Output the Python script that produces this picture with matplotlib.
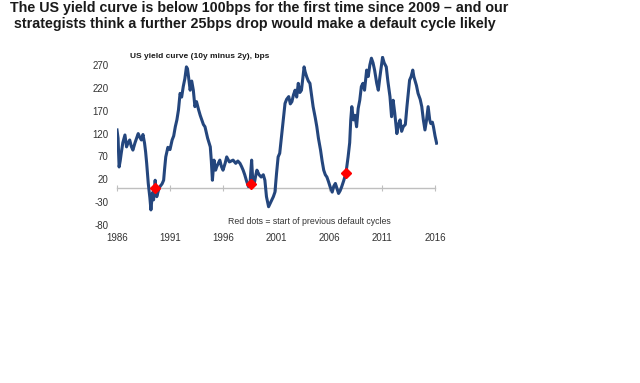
import numpy as np
import matplotlib
matplotlib.use('Agg')
import matplotlib.pyplot as plt

# data (year, bps)
years = [1986.0, 1986.1, 1986.2, 1986.3, 1986.4, 1986.55, 1986.75, 1986.9, 1987.05, 1987.2,
         1987.35, 1987.5, 1987.7, 1987.85, 1988.0, 1988.15, 1988.3, 1988.45, 1988.6, 1988.7,
         1988.8, 1988.95, 1989.1, 1989.2, 1989.35, 1989.45, 1989.6, 1989.75, 1989.9, 1990.05,
         1990.25, 1990.4, 1990.5, 1990.6, 1990.8, 1991.0, 1991.2, 1991.35, 1991.5, 1991.65,
         1991.8, 1991.95, 1992.1, 1992.25, 1992.4, 1992.55, 1992.65, 1992.75, 1992.9, 1993.05,
         1993.2, 1993.35, 1993.5, 1993.7, 1993.85, 1994.0, 1994.15, 1994.3, 1994.55, 1994.8,
         1994.9, 1995.0, 1995.15, 1995.3, 1995.4, 1995.55, 1995.7, 1995.85, 1996.0, 1996.2,
         1996.35, 1996.6, 1996.95, 1997.2, 1997.4, 1997.6, 1997.75, 1997.9, 1998.05, 1998.2,
         1998.4, 1998.55, 1998.7, 1998.8, 1998.95, 1999.1, 1999.2, 1999.4, 1999.6, 1999.8,
         1999.95, 2000.1, 2000.3, 2000.5, 2000.75, 2000.9, 2001.05, 2001.2, 2001.35, 2001.55,
         2001.7, 2001.85, 2002.0, 2002.2, 2002.35, 2002.5, 2002.65, 2002.8, 2002.95, 2003.1,
         2003.25, 2003.4, 2003.55, 2003.65, 2003.75, 2003.9, 2004.05, 2004.2, 2004.35, 2004.5,
         2004.7, 2004.85, 2005.0, 2005.2, 2005.35, 2005.5, 2005.65, 2005.8, 2005.95, 2006.1,
         2006.3, 2006.45, 2006.6, 2006.75, 2006.9, 2007.05, 2007.2, 2007.4, 2007.6, 2007.8,
         2007.95, 2008.05, 2008.15, 2008.3, 2008.45, 2008.6, 2008.75, 2008.9, 2009.05, 2009.2,
         2009.35, 2009.55, 2009.7, 2009.85, 2010.0, 2010.15, 2010.3, 2010.5, 2010.65, 2010.8,
         2010.95, 2011.05, 2011.2, 2011.4, 2011.55, 2011.75, 2011.9, 2012.05, 2012.2, 2012.4,
         2012.55, 2012.7, 2012.85, 2013.0, 2013.2, 2013.35, 2013.5, 2013.6, 2013.75, 2013.9,
         2014.0, 2014.1, 2014.25, 2014.4, 2014.6, 2014.75, 2014.9, 2015.05, 2015.2, 2015.35,
         2015.5, 2015.6, 2015.75, 2015.85, 2016.0, 2016.15]
spread = [128, 110, 47, 60, 77, 100, 117, 91, 100, 106,
          92, 84, 100, 110, 120, 112, 106, 118, 99, 80,
          55, 11, -20, -47, -9, -25, 18, -18, -5, 4,
          10, 18, 45, 69, 90, 85, 106, 115, 135, 150,
          172, 208, 200, 223, 240, 266, 262, 244, 215, 235,
          215, 179, 190, 172, 160, 150, 140, 135, 110, 91,
          60, 18, 62, 40, 47, 55, 62, 48, 40, 55,
          69, 58, 62, 55, 60, 55, 48, 40, 30, 18,
          4, 12, 62, 20, 11, 30, 40, 30, 25, 30,
          18, -18, -40, -30, -18, -8, 33, 69, 77, 120,
          150, 186, 195, 201, 185, 190, 205, 215, 200, 230,
          210, 215, 245, 266, 255, 244, 235, 230, 205, 179,
          155, 135, 110, 84, 60, 40, 30, 25, 15, 4,
          -8, 5, 11, 0, -11, -5, 4, 18, 34, 69,
          100, 150, 179, 150, 160, 135, 175, 193, 223, 230,
          215, 259, 245, 270, 285, 275, 259, 230, 215, 244,
          270, 287, 275, 266, 235, 201, 157, 193, 165, 120,
          140, 150, 125, 135, 140, 179, 215, 237, 245, 259,
          245, 237, 225, 208, 195, 179, 150, 128, 150, 179,
          150, 142, 145, 135, 115, 99]

# start of previous default cycles
dot_years = [1989.6, 1998.6, 2007.6]
dot_values = [0, 10, 34]

xtick_years = [1986, 1991, 1996, 2001, 2006, 2011, 2016]
ytick_values = [-80, -30, 20, 70, 120, 170, 220, 270]


def main():
    plt.rcParams['font.family'] = ['Liberation Sans', 'DejaVu Sans']
    plt.rcParams['axes.unicode_minus'] = False

    fig = plt.figure(figsize=(6.4, 3.83), dpi=100)
    ax = fig.add_axes([0.1828, 0.4125, 0.5019, 0.4415])

    ax.plot(years, spread, color='#24467d', linewidth=2.2, zorder=3)
    ax.plot(dot_years, dot_values, linestyle='none', marker='D', markersize=5.5,
            color='#ff0000', zorder=4)

    ax.set_xlim(1986, 2016.3)
    ax.set_ylim(-80, 290)

    # horizontal axis crosses at zero, labels sit low
    for side in ['top', 'right', 'left']:
        ax.spines[side].set_visible(False)
    ax.spines['bottom'].set_position(('data', 0))
    ax.spines['bottom'].set_color('#bfbfbf')
    ax.spines['bottom'].set_linewidth(1.0)
    ax.spines['bottom'].set_bounds(1986, 2016)
    ax.set_xticks(xtick_years)
    ax.set_xticklabels([str(y) for y in xtick_years])
    ax.tick_params(axis='x', direction='inout', length=4, color='#bfbfbf',
                   labelsize=7, labelcolor='#333333', pad=30)
    ax.set_yticks(ytick_values)
    ax.tick_params(axis='y', length=0, labelsize=7, labelcolor='#333333', pad=6)

    ax.text(130 / 640, 1 - 57 / 383, 'US yield curve (10y minus 2y), bps',
            transform=fig.transFigure, fontsize=6, fontweight='bold',
            va='center', ha='left', color='#1a1a1a')
    ax.text(228 / 640, 1 - 221 / 383, 'Red dots = start of previous default cycles',
            transform=fig.transFigure, fontsize=6.3, va='center', ha='left',
            color='#333333')

    fig.text(259 / 640, 1 - 8 / 383,
             'The US yield curve is below 100bps for the first time since 2009 \u2013 and our',
             fontsize=10.3, fontweight='bold', ha='center', va='center', color='#1a1a1a')
    fig.text(255 / 640, 1 - 24 / 383,
             'strategists think a further 25bps drop would make a default cycle likely',
             fontsize=10.3, fontweight='bold', ha='center', va='center', color='#1a1a1a')

    fig.savefig('out.png', dpi=100)


if __name__ == '__main__':
    main()
